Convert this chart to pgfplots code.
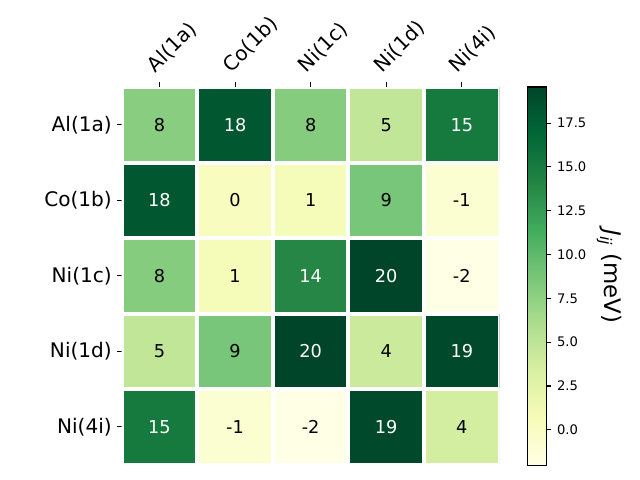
\documentclass[border=0pt]{standalone}
\usepackage{pgfplots}
\pgfplotsset{compat=1.18}
\usepackage{pgfplotstable}
\usepackage{fontspec}
\setmainfont{DejaVu Sans}
\pgfplotstableread{
x y v
0 0 7.9
1 0 18.2
2 0 8.1
3 0 4.8
4 0 15.2
0 1 18.2
1 1 0.3
2 1 0.8
3 1 8.8
4 1 -0.8
0 2 8.1
1 2 0.8
2 2 14.0
3 2 19.56
4 2 -2.05
0 3 4.8
1 3 8.8
2 3 19.56
3 3 4.2
4 3 19.3
0 4 15.2
1 4 -0.8
2 4 -2.05
3 4 19.3
4 4 3.7
}\datatable
\begin{document}
\begin{tikzpicture}
\useasboundingbox (0,0) rectangle (6.4in,4.8in);
\begin{axis}[
  at={(1.217in,0.154in)}, anchor=south west,
  width=3.779in, height=3.776in, scale only axis,
  xmin=-0.5, xmax=4.5, ymin=-0.5, ymax=4.5, y dir=reverse,
  axis x line*=top, axis y line*=left,
  axis line style={draw=none},
  xtick={0,1,2,3,4}, ytick={0,1,2,3,4},
  xticklabels={Al(1a),Co(1b),Ni(1c),Ni(1d),Ni(4i)},
  yticklabels={Al(1a),Co(1b),Ni(1c),Ni(1d),Ni(4i)},
  xticklabel style={rotate=45, anchor=south west, inner sep=0pt, font=\fontsize{14.5}{17}\selectfont, xshift=2.5pt, yshift=4.5pt},
  yticklabel style={font=\fontsize{14.5}{17}\selectfont, inner sep=0pt, xshift=-3.5pt},
  tick align=outside, major tick length=3.5pt,
  tick style={black, line width=0.8pt},
  colormap={YlGn}{rgb255=(255,255,229) rgb255=(247,252,185) rgb255=(217,240,163) rgb255=(173,221,142) rgb255=(120,198,121) rgb255=(65,171,93) rgb255=(35,132,67) rgb255=(0,104,55) rgb255=(0,69,41)},
  point meta min=-2.05, point meta max=19.56,
  colorbar,
  colorbar style={
    at={(parent axis.north east)}, anchor=north west, xshift=0.16in,
    width=0.19in, height=3.787in,
    axis line style={black, line width=0.8pt},
    xtick=\empty, ytick pos=right,
    ytick={0,2.5,5,7.5,10,12.5,15,17.5},
    yticklabel style={/pgf/number format/.cd, fixed, fixed zerofill, precision=1, assume math mode=true, /tikz/.cd, font=\fontsize{9.5}{11}\selectfont, inner sep=0pt, xshift=4pt},
    tick align=outside, major tick length=3.5pt,
    ytick style={black, line width=0.8pt},
    every axis y label/.style={at={(axis description cs:4.3,0.5)}, rotate=-90, anchor=center, font=\fontsize{16.5}{19}\selectfont},
    ylabel={\textit{J}\textsubscript{\textit{ij}} (meV)},
  },
]
\addplot[matrix plot*, mesh/cols=5, point meta=explicit, draw=white, line width=2.9pt] table[x=x, y=y, meta=v] {\datatable};
\addplot[draw=none, mark=none, point meta=explicit,
  visualization depends on={\thisrow{v} \as \cellval},
  nodes near coords={\ifdim\cellval pt>11pt\color{white}\fi\pgfmathprintnumber[fixed,precision=0,assume math mode=true]{\cellval}},
  nodes near coords align={center},
  every node near coord/.append style={font=\fontsize{12.8}{15}\selectfont, anchor=center},
] table[x=x, y=y, meta=v] {\datatable};
\end{axis}
\end{tikzpicture}
\end{document}
